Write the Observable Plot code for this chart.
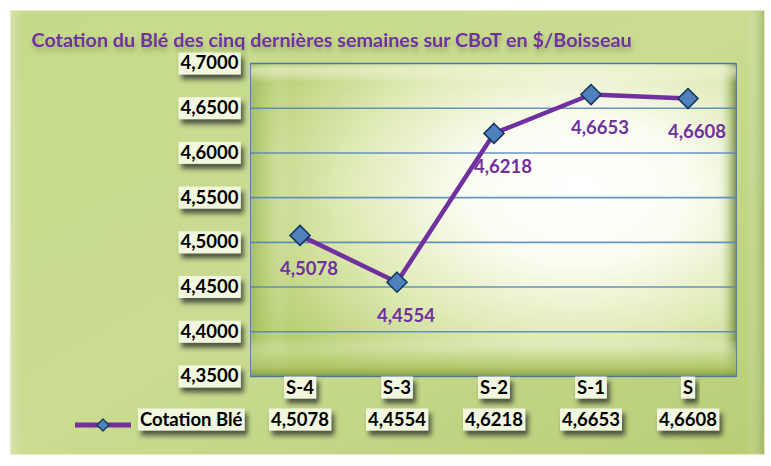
<!DOCTYPE html>
<html>
<head>
<meta charset="utf-8">
<script src="https://cdn.jsdelivr.net/npm/d3@7"></script>
<script src="https://cdn.jsdelivr.net/npm/@observablehq/plot@0.6"></script>
<style>
  html, body { margin: 0; padding: 0; background: #ffffff; }
  svg { display: block; }
</style>
</head>
<body>
<div id="chart"></div>
<script>
const chartTitle = "Cotation du Blé des cinq dernières semaines sur CBoT en $/Boisseau";
const seriesName = "Cotation Blé";
const categories = ["S-4", "S-3", "S-2", "S-1", "S"];
const values = [4.5078, 4.4554, 4.6218, 4.6653, 4.6608];
const yTicks = [4.35, 4.40, 4.45, 4.50, 4.55, 4.60, 4.65, 4.70];

const fmt = d => d.toFixed(4).replace(".", ",");
const data = categories.map((c, i) => ({week: c, value: values[i]}));

const PURPLE = "#7030a0";
const FONT = "Lato, 'Open Sans', sans-serif";

const W = 771, H = 466;
const mTop = 63, mRight = 35, mBottom = 90, mLeft = 250;

const plot = Plot.plot({
  width: W,
  height: H,
  marginTop: mTop,
  marginRight: mRight,
  marginBottom: mBottom,
  marginLeft: mLeft,
  style: {fontFamily: FONT, background: "transparent", overflow: "visible"},
  x: {type: "band", domain: categories, padding: 0, axis: null},
  y: {domain: [4.35, 4.70], axis: null},
  marks: [
    Plot.frame({fill: "url(#plotBg)"}),
    Plot.frame({fill: "url(#bevelH)"}),
    Plot.frame({fill: "url(#bevelV)"}),
    Plot.ruleY(yTicks, {stroke: "#4f81bd", strokeOpacity: 0.85, strokeWidth: 1.6}),
    Plot.frame({stroke: "#4f6fa0", strokeWidth: 1, strokeOpacity: 0.8}),
    Plot.line(data, {x: "week", y: "value", stroke: PURPLE, strokeWidth: 4.5}),
    Plot.dot(data, {x: "week", y: "value", symbol: "diamond2", r: 9, fill: "#4f81bd", stroke: "#17375e", strokeWidth: 1.6}),
    // y tick labels (0)
    Plot.text(yTicks, {y: d => d, text: fmt, frameAnchor: "left", dx: -12, textAnchor: "end", fontSize: 18.5, fontWeight: "bold", fill: "black"}),
    // data labels (1)
    Plot.text(data, {x: "week", y: "value", text: d => fmt(d.value), dy: 34, dx: 9, fontSize: 18.5, fontWeight: "bold", fill: PURPLE}),
    // category row (2)
    Plot.text(data, {x: "week", text: "week", frameAnchor: "bottom", dy: 17, fontSize: 18.5, fontWeight: "bold", fill: "black"}),
    // value row (3)
    Plot.text(data, {x: "week", text: d => fmt(d.value), frameAnchor: "bottom", dy: 49, fontSize: 18.5, fontWeight: "bold", fill: "black"}),
    // legend label (4)
    Plot.text([seriesName], {frameAnchor: "bottom-left", dx: -8, dy: 49, textAnchor: "end", fontSize: 18.5, fontWeight: "bold", fill: "black"}),
    // title (5)
    Plot.text([chartTitle], {frameAnchor: "top-left", dx: -219, dy: -31, textAnchor: "start", fontSize: 19.8, fontWeight: "bold", fill: PURPLE})
  ]
});

document.getElementById("chart").appendChild(plot);

const svg = d3.select(plot);
const defs = svg.insert("defs", ":first-child");

// Plot-area radial gradient
const rg = defs.append("radialGradient").attr("id", "plotBg")
  .attr("cx", "0.66").attr("cy", "0.42").attr("r", "0.75").attr("fx", "0.68").attr("fy", "0.4");
[[0, "#ffffff"], [0.3, "#fbfdf3"], [0.62, "#e0ebb7"], [1, "#b3cc6c"]].forEach(([o, c]) =>
  rg.append("stop").attr("offset", o).attr("stop-color", c));

const bh = defs.append("linearGradient").attr("id", "bevelH").attr("x1", 0).attr("x2", 1).attr("y1", 0).attr("y2", 0);
[[0, "#9fb85a", 0.8], [0.035, "#b9d07a", 0.4], [0.08, "#ffffff", 0], [0.96, "#ffffff", 0], [0.985, "#8fa84c", 0.45], [1, "#5d7330", 0.8]].forEach(([o, c, a]) =>
  bh.append("stop").attr("offset", o).attr("stop-color", c).attr("stop-opacity", a));

const bv = defs.append("linearGradient").attr("id", "bevelV").attr("x1", 0).attr("x2", 0).attr("y1", 0).attr("y2", 1);
[[0, "#ffffff", 0.0], [0.02, "#eef5d0", 0.6], [0.06, "#ffffff", 0], [0.88, "#ffffff", 0], [0.93, "#c4d98a", 0.6], [0.975, "#a8c060", 0.85], [1, "#7f9a40", 0.9]].forEach(([o, c, a]) =>
  bv.append("stop").attr("offset", o).attr("stop-color", c).attr("stop-opacity", a));

// Outer background gradient
const og = defs.append("linearGradient").attr("id", "outerBg").attr("x1", 0).attr("x2", 1).attr("y1", 0).attr("y2", 1);
[[0, "#c6da8c"], [0.5, "#c9dc92"], [1, "#b7ce76"]].forEach(([o, c]) =>
  og.append("stop").attr("offset", o).attr("stop-color", c));
const oe = defs.append("linearGradient").attr("id", "outerEdge").attr("x1", 0).attr("x2", 1).attr("y1", 0).attr("y2", 0);
[[0, "#ffffff", 0.25], [0.015, "#ffffff", 0], [0.975, "#ffffff", 0], [1, "#7f9a40", 0.5]].forEach(([o, c, a]) =>
  oe.append("stop").attr("offset", o).attr("stop-color", c).attr("stop-opacity", a));

// Shadows
const sh = defs.append("filter").attr("id", "boxShadow").attr("x", "-20%").attr("y", "-30%").attr("width", "150%").attr("height", "190%");
sh.append("feDropShadow").attr("dx", 3).attr("dy", 5).attr("stdDeviation", 2.5).attr("flood-color", "#2a2a2a").attr("flood-opacity", 0.75);
const ts = defs.append("filter").attr("id", "titleShadow").attr("x", "-5%").attr("y", "-50%").attr("width", "110%").attr("height", "220%");
ts.append("feDropShadow").attr("dx", 1).attr("dy", 4).attr("stdDeviation", 2.5).attr("flood-color", "#3a4a20").attr("flood-opacity", 0.35);

// Outer frame
const bg = svg.insert("g", "defs + *");
bg.append("rect").attr("x", 10).attr("y", 10).attr("width", W - 16).attr("height", H - 21).attr("fill", "url(#outerBg)");
bg.append("rect").attr("x", 10).attr("y", 10).attr("width", W - 16).attr("height", H - 21).attr("fill", "url(#outerEdge)");
bg.append("rect").attr("x", 10.5).attr("y", 10.5).attr("width", W - 17).attr("height", H - 22).attr("fill", "none").attr("stroke", "#e2eec0").attr("stroke-width", 1);

// Label boxes behind black text
const textGroups = svg.selectAll("g[aria-label='text']").nodes();
[0, 2, 3, 4].forEach(i => {
  const g = textGroups[i];
  if (!g) return;
  const boxes = d3.select(g.parentNode).insert("g", () => g);
  d3.select(g).selectAll("text").each(function () {
    const b = this.getBBox();
    const t = this.getAttribute("transform");
    const r = boxes.append("rect")
      .attr("x", b.x - 2).attr("y", b.y + 1).attr("width", b.width + 4).attr("height", b.height)
      .attr("fill", "#f2f7df").attr("filter", "url(#boxShadow)");
    if (t) r.attr("transform", t);
  });
  const gt = g.getAttribute("transform");
  if (gt) boxes.attr("transform", gt);
});
if (textGroups[5]) d3.select(textGroups[5]).attr("filter", "url(#titleShadow)");

// Legend key (line + diamond)
const legendY = H - mBottom + 49;
const lg = svg.append("g");
lg.append("line").attr("x1", 75).attr("x2", 131).attr("y1", legendY).attr("y2", legendY)
  .attr("stroke", PURPLE).attr("stroke-width", 5);
lg.append("path").attr("d", d3.symbol(d3.symbolDiamond2, 90)())
  .attr("transform", `translate(103,${legendY})`)
  .attr("fill", "#4f81bd").attr("stroke", "#17375e").attr("stroke-width", 1.4);
</script>
</body>
</html>
